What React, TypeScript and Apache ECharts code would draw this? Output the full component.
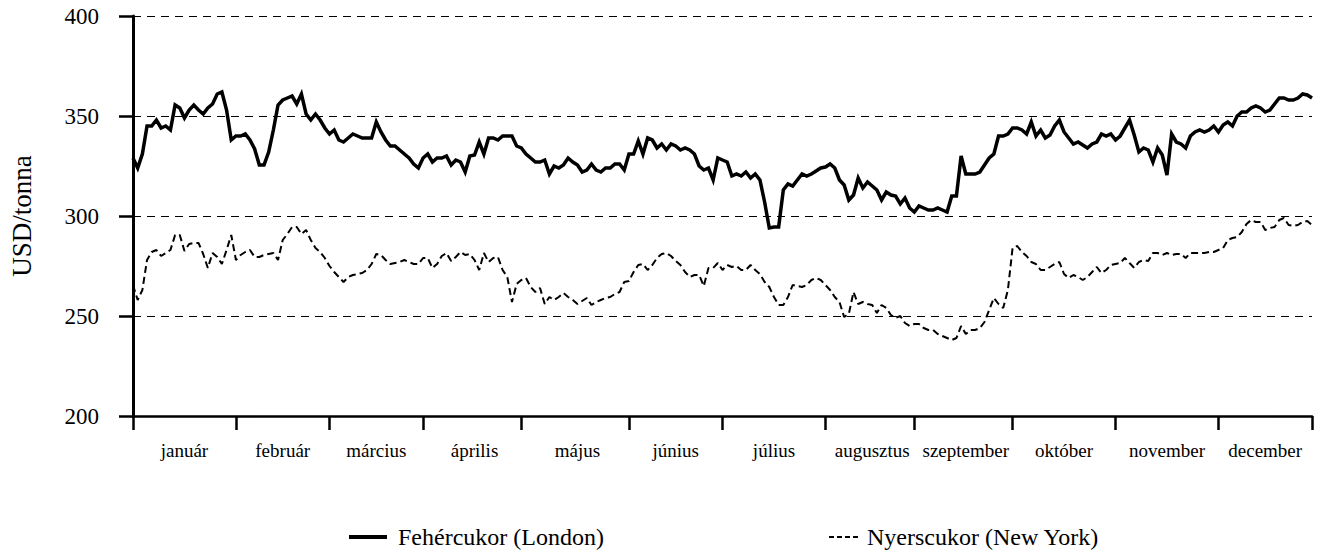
import React, { useEffect, useRef } from "react";
import * as echarts from "echarts";

// Trading days per month (number of daily steps in each month)
const monthNames = [
  "január", "február", "március", "április", "május", "június",
  "július", "augusztus", "szeptember", "október", "november", "december",
];
const monthSteps = [22, 20, 20, 21, 23, 20, 22, 19, 21, 22, 22, 20];

const yTicks = [200, 250, 300, 350, 400];

// Fehércukor (London), USD/tonna, daily
const londonQ1 = [
  329, 324, 331, 345, 345, 348, 344, 345, 343, 355.5, 354, 349, 353, 355.5, 353, 351, 354, 356, 361, 362,
  353, 338, 340, 340, 341, 338, 333.5, 325.5, 325.5, 332, 343, 355.5, 358, 359, 360, 356, 361, 351, 348, 351,
  348, 344, 341, 343, 338, 337, 339, 341, 340, 339, 339, 339, 347, 342, 338, 335, 335, 333, 331, 329,
  326, 324, 329, 331, 327, 329,
];
const londonQ2 = [
  329, 330, 325.5, 328, 327, 322, 330, 330.5, 337, 331, 339, 339, 338, 340, 340, 340, 335, 334, 331, 329,
  327, 327, 328, 321, 325, 324, 325.5, 329, 327, 325.5, 322, 323, 326, 323, 322, 324, 324, 326, 326, 323,
  331, 331, 337.5, 331, 339, 338, 334, 336, 333, 336, 335, 333, 334, 333, 331, 325, 323, 324, 318, 329,
  328, 327, 320, 321,
];
const londonQ3 = [
  320, 322, 319, 321, 318, 307, 294, 294.5, 294.5, 313, 316, 315, 318, 321, 320, 321, 322.5, 324, 324.5, 326,
  324, 318, 315.5, 308, 310.5, 319, 314, 317, 315, 313, 308, 312, 310.5, 310, 306, 309, 304, 302, 305, 304,
  303, 303, 304, 303, 302, 310, 310, 330, 321, 321, 321, 322, 325.5, 329, 331, 340, 340, 341, 344, 344,
  343, 341, 347, 340,
];
const londonQ4 = [
  343, 339, 340.5, 345, 348, 342, 339, 336, 337, 335.5, 334, 336, 337, 341, 340, 341, 338, 340, 344, 348,
  340.5, 332, 334, 333, 327, 334, 330.5, 320.5, 341, 337, 336, 334, 340, 342, 343, 342, 343, 345, 342, 345.5,
  347, 345, 350, 352, 352, 354, 355, 354, 352, 353, 356, 359, 359, 358, 358, 359, 361, 360.5, 359,
];

// Nyerscukor (New York), USD/tonna, daily
const nyQ1 = [
  265.5, 258, 263, 278, 282, 283, 280, 281.5, 283, 290.5, 290.5, 282.5, 286, 286.5, 286.5, 281, 274, 281.5, 279.5, 276,
  283, 290.5, 278, 280.5, 282, 283, 279.5, 279.5, 280.5, 281, 281.5, 278, 288, 291, 294.5, 294.5, 291, 293, 288, 284,
  282, 279, 275, 272, 269.5, 267, 269.5, 270.5, 271, 271.5, 273, 276, 281, 280.5, 278, 276, 276.5, 277, 278, 277,
  276, 276, 279, 279, 274, 276,
];
const nyQ2 = [
  280, 281.5, 277.5, 279.5, 282, 280.5, 281, 278, 273, 281.5, 277, 279, 279.5, 273, 269.5, 257, 266, 268, 269, 264.5,
  262, 264, 256, 259.5, 258, 259.5, 261.5, 259.5, 258, 256, 257.5, 259, 255.5, 257, 258, 259, 259.5, 261, 262, 267,
  267.5, 272, 275.5, 276, 273, 275.5, 279, 281, 281.5, 280, 277.5, 275.5, 272, 269.5, 270.5, 270.5, 265, 274, 274, 276.5,
  273, 275.5, 274.5, 275,
];
const nyQ3 = [
  273, 273, 275.5, 273, 271, 267, 264.5, 259.5, 255.5, 255.5, 259.5, 265.5, 265, 264.5, 265.5, 268, 269, 268, 265.5, 263,
  259.5, 257, 249.5, 251, 262, 256, 257, 256, 255.5, 251.5, 255.5, 254, 250.5, 249, 250, 246.5, 245, 246, 246, 244,
  243, 243, 241, 240, 239, 238, 239, 245, 241, 243, 243, 244, 247, 253, 259, 256, 254, 263, 284, 285,
  282, 280, 277, 276,
];
const nyQ4 = [
  273, 273, 274.5, 276, 277, 271, 269, 270.5, 269.5, 268, 269.5, 272, 274.5, 271.5, 273, 275.5, 276, 276.5, 279, 276.5,
  274, 277, 278, 277.5, 281.5, 281.5, 280.5, 281.5, 280.5, 281, 281, 279, 281.5, 281.5, 281.5, 281.5, 282, 282, 283, 284,
  288, 289, 289.5, 292, 296, 298, 297, 297, 293, 294, 294.5, 298, 299, 295.5, 295, 295.5, 297, 297.5, 295.5,
];

const londonName = "Fehércukor (London)";
const nyName = "Nyerscukor (New York)";

const FONT = "'Liberation Serif', 'Times New Roman', serif";

export default function App() {
  const ref = useRef<HTMLDivElement>(null);

  useEffect(() => {
    if (!ref.current) return;
    const chart = echarts.init(ref.current, undefined, { renderer: "svg" });

    const london = [...londonQ1, ...londonQ2, ...londonQ3, ...londonQ4];
    const ny = [...nyQ1, ...nyQ2, ...nyQ3, ...nyQ4];
    const categories = london.map((_, i) => String(i));

    // month boundaries (tick positions) and mid-month label positions
    const boundaries: number[] = [0];
    monthSteps.forEach((s) => boundaries.push(boundaries[boundaries.length - 1] + s));
    const boundarySet = new Set(boundaries);
    const labelAt = new Map<number, string>();
    for (let m = 0; m < monthNames.length; m++) {
      labelAt.set(Math.round((boundaries[m] + boundaries[m + 1]) / 2), monthNames[m]);
    }

    const legendText = { fontSize: 24, color: "#000", fontFamily: FONT };

    chart.setOption({
      animation: false,
      backgroundColor: "#fff",
      textStyle: { fontFamily: FONT },
      grid: { left: 131, right: 11, top: 16, bottom: 136, containLabel: false },
      xAxis: {
        type: "category",
        data: categories,
        boundaryGap: false,
        axisLine: { show: true, lineStyle: { color: "#000", width: 2.5 } },
        axisTick: {
          show: true,
          length: 14,
          interval: (index: number) => boundarySet.has(index),
          lineStyle: { color: "#000", width: 2.5 },
        },
        axisLabel: {
          interval: (index: number) => labelAt.has(index),
          formatter: (_v: string, index: number) => labelAt.get(index) || "",
          margin: 25,
          fontSize: 19,
          color: "#000",
          fontFamily: FONT,
        },
        splitLine: { show: false },
      },
      yAxis: {
        type: "value",
        min: yTicks[0],
        max: yTicks[yTicks.length - 1],
        interval: 50,
        name: "USD/tonna",
        nameLocation: "middle",
        nameRotate: 90,
        nameGap: 98,
        nameTextStyle: { fontSize: 27, color: "#000", fontFamily: FONT },
        axisLine: { show: true, lineStyle: { color: "#000", width: 3 } },
        axisTick: { show: true, length: 14, lineStyle: { color: "#000", width: 2.5 } },
        axisLabel: { margin: 34, fontSize: 23, color: "#000", fontFamily: FONT },
        splitLine: { show: true, lineStyle: { color: "#000", width: 1, type: [8, 6] } },
      },
      legend: [
        {
          data: [londonName],
          left: 347,
          top: 525,
          padding: 0,
          itemWidth: 38,
          itemHeight: 14,
          itemStyle: { opacity: 0 },
          lineStyle: { color: "#000", width: 4, type: "solid" },
          textStyle: { ...legendText, padding: [0, 0, 0, 6] },
        },
        {
          data: [nyName],
          left: 828,
          top: 525,
          padding: 0,
          itemWidth: 32,
          itemHeight: 14,
          itemStyle: { opacity: 0 },
          lineStyle: { color: "#000", width: 2, type: [5, 3] },
          textStyle: { ...legendText, padding: [0, 0, 0, 1] },
        },
      ],
      series: [
        {
          name: londonName,
          type: "line",
          data: london,
          symbol: "none",
          showSymbol: false,
          lineStyle: { color: "#000", width: 3.5, join: "miter" },
          itemStyle: { color: "#000" },
        },
        {
          name: nyName,
          type: "line",
          data: ny,
          symbol: "none",
          showSymbol: false,
          lineStyle: { color: "#000", width: 2, type: [7, 4] },
          itemStyle: { color: "#000" },
        },
      ],
    });

    return () => chart.dispose();
  }, []);

  return (
    <div
      ref={ref}
      style={{ position: "fixed", left: 0, top: 0, width: 1323, height: 552, background: "#fff" }}
    />
  );
}
